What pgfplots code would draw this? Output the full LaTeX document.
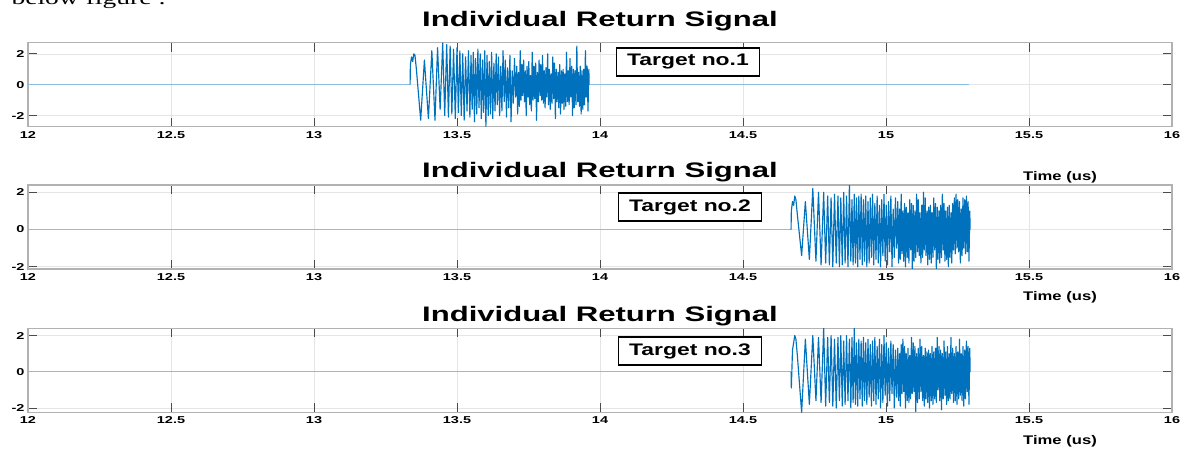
\documentclass[border=0pt]{standalone}
\usepackage{fontspec}
\usepackage{pgfplots}
\usepackage{pgfplotstable}
\pgfplotsset{compat=1.18}
\setmainfont{Liberation Sans}
\newfontfamily\tickf[FakeStretch=1.45]{Liberation Sans}
\newfontfamily\titf[FakeStretch=1.48]{Liberation Sans}
\newfontfamily\tgtf[FakeStretch=1.37]{Liberation Sans}
\newfontfamily\timef[FakeStretch=1.33]{Liberation Sans}
\newfontfamily\serf[FakeStretch=1.45]{Liberation Serif}
\definecolor{mblue}{RGB}{0,114,189}
\definecolor{zblue}{RGB}{140,190,228}

\pgfplotstableread{
x y
13.336 0
13.337 1.3
13.341 1.8
13.345 1.5
13.349 2.0
13.353 1.9
13.358 1.0
13.373 -2.3
13.386 1.6
13.400 -2.2
13.412 2.2
13.423 -2.3
13.432 2.4
13.441 -1.6
13.450 2.7
13.457 -2.0
13.464 2.6
13.470 -2.1
13.476 2.5
13.482 -1.9
13.488 2.3
13.494 -2.2
13.500 2.4
13.505 -1.8
13.510 2.2
13.515 -2.0
13.520 2.0
13.525 -2.3
13.530 1.8
13.535 -1.7
13.540 2.2
13.545 -2.1
13.549 1.9
13.553 -1.6
13.557 2.1
13.561 -2.4
13.565 1.7
13.569 -1.9
13.573 2.3
13.577 -1.5
13.581 2.0
13.585 -2.2
13.589 1.6
13.593 -1.8
13.597 2.2
13.601 -2.7
13.605 1.9
13.609 -2.0
13.613 1.5
13.617 -1.9
13.621 2.1
13.625 -2.2
13.629 1.4
13.633 -1.7
13.637 2.0
13.641 -1.3
13.645 1.8
13.649 -2.0
13.653 1.2
13.657 -1.7
13.661 2.2
13.665 -1.1
13.669 1.6
13.673 -2.1
13.677 1.1
13.681 -1.5
13.685 1.9
13.689 -2.4
13.693 0.9
13.697 -1.2
13.701 1.7
13.705 -0.8
13.709 1.2
13.712 -1.9
13.715 0.8
13.718 -1.4
13.721 2.2
13.724 -1.0
13.727 1.3
13.730 -0.7
13.733 1.6
13.736 -1.1
13.739 0.9
13.742 -2.0
13.745 1.2
13.748 -0.8
13.751 1.5
13.754 -1.3
13.757 0.6
13.760 -1.7
13.763 2.1
13.766 -1.0
13.769 1.2
13.772 -0.9
13.775 1.4
13.778 -2.3
13.781 0.8
13.784 -1.1
13.787 1.6
13.790 -0.7
13.793 1.3
13.796 -1.0
13.799 1.9
13.802 -1.2
13.805 0.9
13.808 -1.5
13.811 1.1
13.814 -0.8
13.817 2.0
13.820 -1.3
13.823 1.0
13.826 -1.6
13.829 0.7
13.832 -1.2
13.835 1.8
13.838 -0.9
13.841 1.4
13.844 -2.2
13.847 1.0
13.850 -1.1
13.853 0.8
13.856 -1.5
13.859 1.3
13.862 -1.9
13.865 0.9
13.868 -1.2
13.871 1.0
13.874 -1.6
13.877 0.7
13.880 -1.4
13.883 2.1
13.886 -1.1
13.889 0.9
13.892 -1.3
13.895 1.7
13.898 -0.8
13.901 1.2
13.904 -2.0
13.907 1.0
13.910 -1.5
13.913 0.9
13.916 -1.3
13.919 2.5
13.922 -1.1
13.925 0.8
13.928 -1.4
13.931 1.2
13.934 -1.9
13.937 0.9
13.940 -1.6
13.943 1.0
13.946 -1.3
13.949 2.2
13.952 -0.8
13.955 1.2
13.958 -1.7
13.961 1.0
13.962 0
}\sigA

\pgfplotstableread{
x y
14.668 0
14.669 1.0
14.673 1.5
14.677 1.3
14.681 1.8
14.685 1.6
14.690 0.8
14.705 -1.4
14.718 1.5
14.732 -1.6
14.744 2.2
14.755 -1.7
14.764 2.0
14.773 -1.9
14.782 2.0
14.789 -1.8
14.796 1.8
14.802 -1.9
14.808 1.7
14.814 -2.0
14.820 1.9
14.826 -1.8
14.832 1.8
14.837 -2.0
14.842 1.7
14.847 -1.9
14.852 2.0
14.857 -1.8
14.862 1.8
14.867 -2.0
14.872 2.39
14.877 -1.7
14.881 1.6
14.885 -1.9
14.889 1.9
14.893 -1.8
14.897 1.7
14.901 -2.0
14.905 1.8
14.909 -1.6
14.913 1.9
14.917 -1.9
14.921 1.6
14.925 -1.7
14.929 1.8
14.933 -2.0
14.937 1.5
14.941 -1.8
14.945 1.7
14.949 -1.5
14.953 1.9
14.957 -1.9
14.961 1.4
14.965 -1.6
14.969 1.8
14.973 -1.8
14.977 1.3
14.981 -2.0
14.985 1.6
14.989 -1.4
14.993 1.9
14.997 -1.7
15.001 1.3
15.005 -1.9
15.009 1.5
15.013 -1.2
15.017 1.8
15.021 -2.0
15.025 1.1
15.029 -1.5
15.033 1.7
15.037 -1.0
15.041 1.5
15.044 -1.8
15.047 1.1
15.050 -1.6
15.053 1.9
15.056 -1.3
15.059 1.0
15.062 -1.7
15.065 1.4
15.068 -2.0
15.071 1.2
15.074 -1.5
15.077 0.9
15.080 -1.8
15.083 1.6
15.086 -1.1
15.089 1.4
15.092 -2.1
15.095 1.3
15.098 -1.7
15.101 1.0
15.104 -1.5
15.107 1.9
15.110 -1.2
15.113 1.6
15.116 -1.4
15.119 0.9
15.122 -1.8
15.125 1.3
15.128 -1.5
15.131 2.0
15.134 -1.1
15.137 1.7
15.140 -1.4
15.143 1.0
15.146 -1.9
15.149 1.2
15.152 -1.6
15.155 1.3
15.158 -1.8
15.161 0.9
15.164 -1.5
15.167 1.7
15.170 -1.1
15.173 1.4
15.176 -2.1
15.179 1.2
15.182 -1.6
15.185 1.0
15.188 -1.8
15.191 1.3
15.194 -1.5
15.197 1.9
15.200 -1.1
15.203 1.4
15.206 -1.7
15.209 1.0
15.212 -1.6
15.215 1.2
15.218 -2.0
15.221 1.3
15.224 -1.5
15.227 0.9
15.230 -1.8
15.233 1.4
15.236 -1.1
15.239 1.7
15.242 -1.3
15.245 1.9
15.248 -1.0
15.251 1.6
15.254 -1.2
15.257 1.5
15.260 -1.8
15.263 1.1
15.266 -1.4
15.269 1.7
15.272 -1.0
15.275 1.6
15.278 -1.3
15.281 1.8
15.284 -1.2
15.287 1.5
15.290 -1.7
15.293 1.0
15.294 0
}\sigB

\pgfplotstableread{
x y
14.668 0
14.669 -0.9
14.673 1.2
14.677 1.6
14.681 2.0
14.685 1.8
14.690 0.9
14.705 -2.24
14.718 1.8
14.732 -1.8
14.744 2.0
14.755 -1.6
14.764 1.9
14.773 -1.7
14.782 2.4
14.789 -1.9
14.796 1.9
14.802 -1.7
14.808 2.0
14.814 -1.9
14.820 1.8
14.826 -2.0
14.832 1.9
14.837 -1.6
14.842 2.0
14.847 -1.9
14.852 1.7
14.857 -1.8
14.862 2.0
14.867 -1.6
14.872 1.8
14.877 -2.0
14.881 1.9
14.885 -1.7
14.889 2.4
14.893 -1.8
14.897 1.6
14.901 -1.9
14.905 1.8
14.909 -1.5
14.913 1.7
14.917 -1.9
14.921 1.9
14.925 -1.6
14.929 1.6
14.933 -1.8
14.937 1.8
14.941 -1.4
14.945 1.5
14.949 -1.9
14.953 1.7
14.957 -1.6
14.961 1.9
14.965 -1.8
14.969 1.4
14.973 -1.5
14.977 1.8
14.981 -2.0
14.985 1.5
14.989 -1.7
14.993 2.0
14.997 -1.3
15.001 1.6
15.005 -1.9
15.009 1.3
15.013 -1.6
15.017 1.7
15.021 -1.2
15.025 1.5
15.029 -2.0
15.033 1.2
15.037 -1.4
15.041 1.3
15.044 -1.6
15.047 1.0
15.050 -1.9
15.053 1.5
15.056 -1.2
15.059 1.8
15.062 -1.1
15.065 1.4
15.068 -2.0
15.071 1.0
15.074 -1.6
15.077 1.3
15.080 -1.7
15.083 0.9
15.086 -1.5
15.089 1.9
15.092 -1.2
15.095 1.6
15.098 -1.1
15.101 1.4
15.104 -2.2
15.107 1.0
15.110 -1.7
15.113 1.3
15.116 -1.5
15.119 1.8
15.122 -1.1
15.125 1.4
15.128 -1.6
15.131 0.9
15.134 -1.9
15.137 1.3
15.140 -1.5
15.143 1.1
15.146 -1.7
15.149 1.2
15.152 -2.0
15.155 1.0
15.158 -1.6
15.161 1.4
15.164 -1.8
15.167 1.1
15.170 -1.5
15.173 1.3
15.176 -1.7
15.179 1.9
15.182 -1.0
15.185 1.4
15.188 -1.6
15.191 1.2
15.194 -2.1
15.197 1.0
15.200 -1.5
15.203 1.7
15.206 -1.3
15.209 1.1
15.212 -1.8
15.215 1.4
15.218 -1.6
15.221 1.0
15.224 -1.5
15.227 1.9
15.230 -1.2
15.233 1.3
15.236 -1.7
15.239 1.0
15.242 -1.6
15.245 1.4
15.248 -1.8
15.251 1.1
15.254 -1.5
15.257 1.8
15.260 -1.3
15.263 1.0
15.266 -1.6
15.269 1.4
15.272 -1.9
15.275 1.2
15.278 -1.5
15.281 1.7
15.284 -1.1
15.287 1.4
15.290 -1.8
15.293 1.3
15.294 0
}\sigC

\pgfplotsset{
  sigaxis/.style={
    scale only axis, width=1144pt, height=84pt,
    xmin=12, xmax=16,
    xtick={12,12.5,13,13.5,14,14.5,15,15.5,16},
    xticklabels={12,12.5,13,13.5,14,14.5,15,15.5,16},
    ytick={-2,0,2}, yticklabels={-2,0,2},
    xtick pos=both, ytick pos=both,
    xticklabel pos=lower, yticklabel pos=left,
    tick align=inside, major tick length=9pt,
    xmajorgrids, ymajorgrids,
    grid style={gray!20, line width=0.6pt},
    axis line style={gray!60, line width=1.2pt},
    tick style={black!70, line width=0.9pt},
    ticklabel style={font=\fontsize{10}{12}\selectfont\tickf\bfseries},
    xticklabel style={yshift=-1pt},
  },
  zline/.style={zblue, line width=1.1pt},
  sline/.style={mblue, line width=1.15pt, line join=round},
}

\begin{document}
\begin{tikzpicture}
\path[use as bounding box] (0pt,0pt) rectangle (1185pt,-451pt);
\node[anchor=base west, font=\fontsize{19}{21}\selectfont\serf] at (8pt,-4pt) {below figure :};

\begin{axis}[sigaxis, at={(28pt,-42.7pt)}, anchor=north west, ymin=-2.72, ymax=2.72]
\addplot[zline] coordinates {(12,0) (13.336,0)};
\addplot[zline] coordinates {(13.962,0) (15.29,0)};
\addplot[sline] table[x=x,y=y] {\sigA};
\end{axis}

\begin{axis}[sigaxis, at={(28pt,-185pt)}, anchor=north west, ymin=-2.12, ymax=2.39]
\addplot[zline] coordinates {(12,0) (14.668,0)};
\addplot[sline] table[x=x,y=y] {\sigB};
\end{axis}

\begin{axis}[sigaxis, at={(28pt,-328.3pt)}, anchor=north west, ymin=-2.24, ymax=2.4]
\addplot[zline] coordinates {(12,0) (14.668,0)};
\addplot[sline] table[x=x,y=y] {\sigC};
\end{axis}

\foreach \yy in {26,177,321.5}{
  \node[anchor=base, font=\fontsize{21}{24}\selectfont\titf\bfseries] at (600pt,-\yy pt) {Individual Return Signal};
}
\foreach \yy in {180.7,300.5,444.5}{
  \node[anchor=base, font=\fontsize{12.5}{14}\selectfont\timef\bfseries] at (1060pt,-\yy pt) {Time (us)};
}
\tikzset{tgt/.style={draw=black, line width=1.5pt, fill=white, inner sep=0pt, minimum width=143pt, minimum height=28pt, font=\fontsize{16.7}{18}\selectfont\tgtf\bfseries}}
\node[tgt] at (688pt,-62pt) {Target no.1};
\node[tgt] at (690pt,-207pt) {Target no.2};
\node[tgt] at (690pt,-351pt) {Target no.3};
\end{tikzpicture}
\end{document}
